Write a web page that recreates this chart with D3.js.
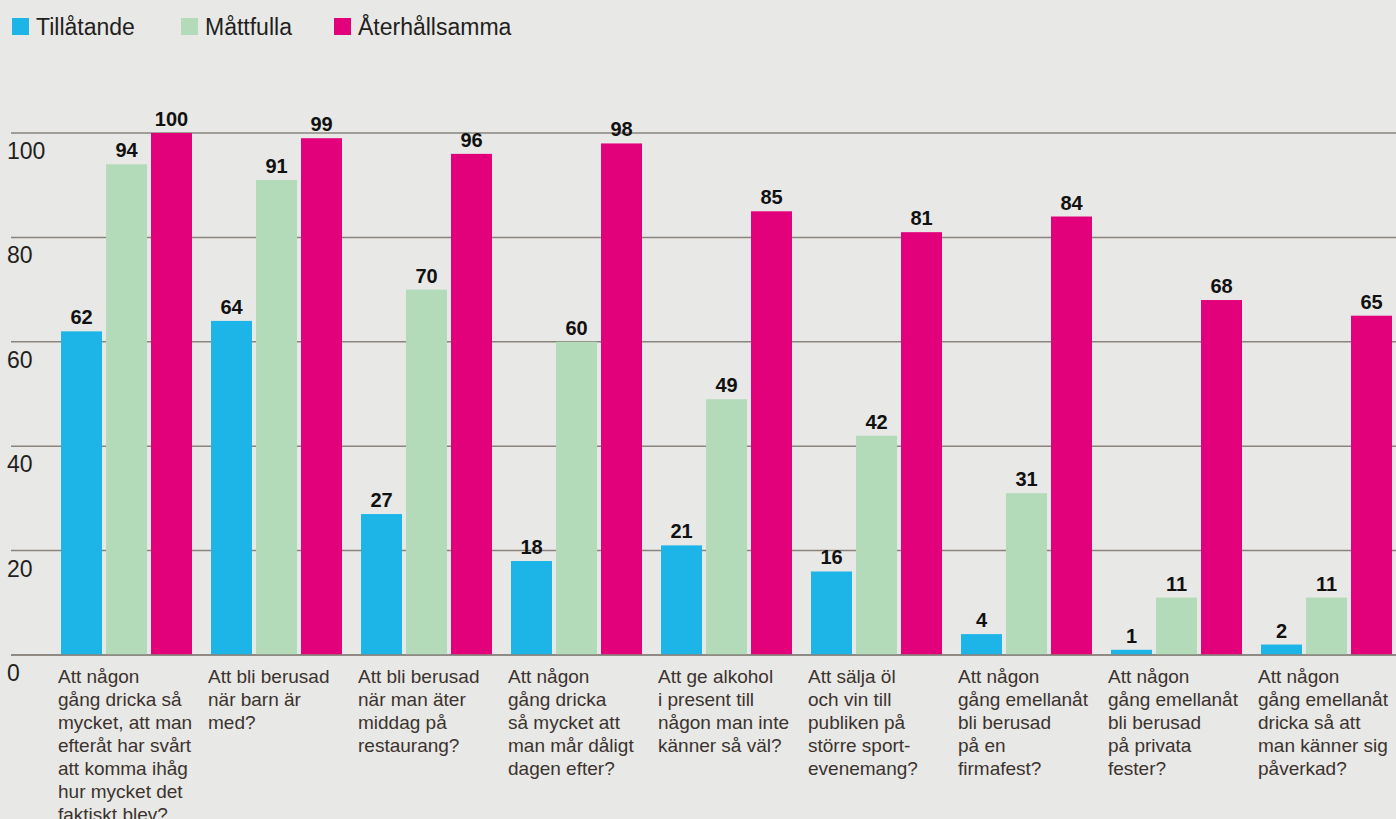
<!DOCTYPE html>
<html><head><meta charset="utf-8">
<script src="https://cdn.jsdelivr.net/npm/d3@7"></script>
<style>
html,body{margin:0;padding:0;background:#e8e8e6;}
svg{display:block;}
text{font-family:"Liberation Sans",Arial,Helvetica,sans-serif;}
</style></head>
<body>
<svg id="chart" width="1396" height="819"></svg>
<script>
const series = ["Tillåtande", "Måttfulla", "Återhållsamma"];
const colors = ["#1db4e8", "#b3dbb9", "#e3007b"];
const categories = [
  ["Att någon", "gång dricka så", "mycket, att man", "efteråt har svårt", "att komma ihåg", "hur mycket det", "faktiskt blev?"],
  ["Att bli berusad", "när barn är", "med?"],
  ["Att bli berusad", "när man äter", "middag på", "restaurang?"],
  ["Att någon", "gång dricka", "så mycket att", "man mår dåligt", "dagen efter?"],
  ["Att ge alkohol", "i present till", "någon man inte", "känner så väl?"],
  ["Att sälja öl", "och vin till", "publiken på", "större sport-", "evenemang?"],
  ["Att någon", "gång emellanåt", "bli berusad", "på en", "firmafest?"],
  ["Att någon", "gång emellanåt", "bli berusad", "på privata", "fester?"],
  ["Att någon", "gång emellanåt", "dricka så att", "man känner sig", "påverkad?"]
];
const tillatande = [62, 64, 27, 18, 21, 16, 4, 1, 2];
const mattfulla = [94, 91, 70, 60, 49, 42, 31, 11, 11];
const aterhallsamma = [100, 99, 96, 98, 85, 81, 84, 68, 65];
const yTicks = [0, 20, 40, 60, 80, 100];

const values = [tillatande, mattfulla, aterhallsamma];
const svg = d3.select("#chart");

const y = d3.scaleLinear().domain([0, 100]).range([655, 133]);
const x0 = d3.scaleBand().domain(d3.range(categories.length)).range([56, 1406]).paddingInner(0).paddingOuter(0);
const x1 = d3.scaleBand().domain(d3.range(series.length)).range([5, 136]).paddingInner(4/45).paddingOuter(0);

// gridlines
svg.append("g").selectAll("line").data(yTicks).join("line")
  .attr("x1", 11).attr("x2", 1396)
  .attr("y1", d => y(d)).attr("y2", d => y(d))
  .attr("stroke", "#8a847d").attr("stroke-width", 1.5);

// y labels
svg.append("g").selectAll("text").data(yTicks).join("text")
  .attr("x", 7).attr("y", d => y(d) + 26)
  .attr("font-size", 23).attr("fill", "#231f20")
  .text(d => d);

// bars
const groups = svg.append("g").selectAll("g").data(categories).join("g")
  .attr("transform", (d, i) => `translate(${x0(i)},0)`);

groups.each(function(cat, i) {
  const g = d3.select(this);
  const rows = series.map((s, j) => ({j, v: values[j][i]}));
  g.selectAll("rect").data(rows).join("rect")
    .attr("x", d => x1(d.j)).attr("width", x1.bandwidth())
    .attr("y", d => y(d.v)).attr("height", d => y(0) - y(d.v))
    .attr("fill", d => colors[d.j]);
  g.selectAll("text.val").data(rows).join("text").attr("class", "val")
    .attr("x", d => x1(d.j) + x1.bandwidth() / 2)
    .attr("y", d => y(d.v) - 7)
    .attr("text-anchor", "middle")
    .attr("font-size", 20).attr("font-weight", "bold").attr("fill", "#111")
    .text(d => d.v);
  const t = g.append("text").attr("x", 2).attr("y", 683)
    .attr("font-size", 19).attr("fill", "#3b332e");
  t.selectAll("tspan").data(cat).join("tspan")
    .attr("x", 2).attr("dy", (d, k) => k === 0 ? 0 : 23)
    .text(d => d);
});

// redraw zero line on top
svg.append("line").attr("x1", 11).attr("x2", 1396)
  .attr("y1", y(0)).attr("y2", y(0))
  .attr("stroke", "#8a847d").attr("stroke-width", 1.5);

// legend
const legendX = [12, 181, 334];
const lg = svg.append("g").selectAll("g").data(series).join("g")
  .attr("transform", (d, i) => `translate(${legendX[i]},0)`);
lg.append("rect").attr("x", 0).attr("y", 18).attr("width", 17).attr("height", 17)
  .attr("fill", (d, i) => colors[i]);
lg.append("text").attr("x", 24).attr("y", 35)
  .attr("font-size", 23).attr("fill", "#231f20").text(d => d);
</script>
</body></html>
